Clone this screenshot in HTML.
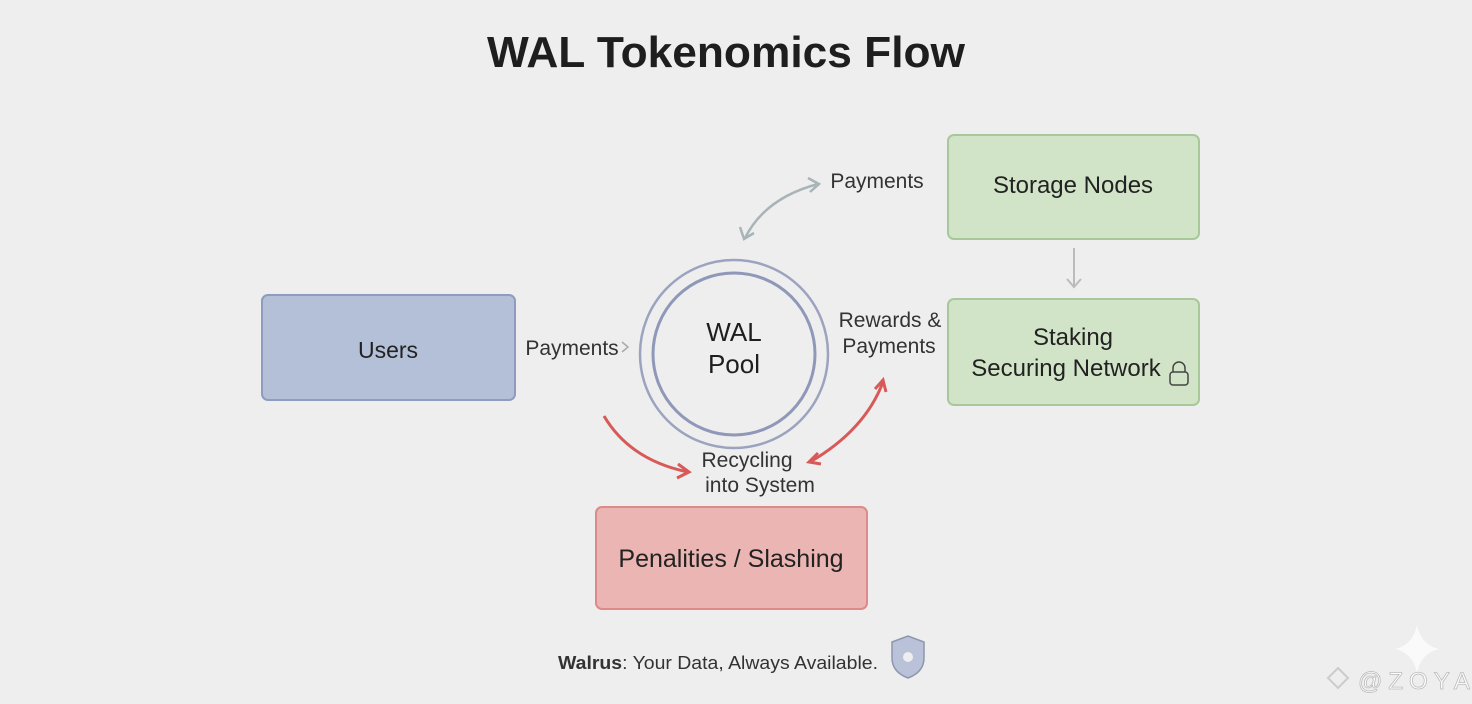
<!DOCTYPE html>
<html><head><meta charset="utf-8"><style>
html,body{margin:0;padding:0;background:#eeeeee;}
svg{display:block;font-family:"Liberation Sans",sans-serif;}
</style></head><body>
<svg width="1472" height="704" viewBox="0 0 1472 704" xmlns="http://www.w3.org/2000/svg">
<rect width="1472" height="704" fill="#eeeeee"/>
<text x="726" y="67" text-anchor="middle" font-size="44" font-weight="bold" fill="#1e1e1e" textLength="478" lengthAdjust="spacingAndGlyphs">WAL Tokenomics Flow</text>

<rect x="262" y="295" width="253" height="105" rx="6" fill="#b4c0d8" stroke="#8f9cc0" stroke-width="2"/>
<text x="388" y="358" text-anchor="middle" font-size="23" fill="#222">Users</text>

<rect x="948" y="135" width="251" height="104" rx="6" fill="#d2e4c8" stroke="#a8c89a" stroke-width="2"/>
<text x="1073" y="193" text-anchor="middle" font-size="24" fill="#222">Storage Nodes</text>

<rect x="948" y="299" width="251" height="106" rx="6" fill="#d2e4c8" stroke="#a8c89a" stroke-width="2"/>
<text x="1073" y="345" text-anchor="middle" font-size="24" fill="#222">Staking</text>
<text x="1066" y="376" text-anchor="middle" font-size="24" fill="#222">Securing Network</text>
<g stroke="#444" stroke-width="1.5" fill="none"><path d="M1173 372 v-4 a6 6 0 0 1 12 0 v4"/><rect x="1170" y="372" width="18" height="13" rx="3"/></g>

<rect x="596" y="507" width="271" height="102" rx="6" fill="#eab5b2" stroke="#de8a88" stroke-width="2"/>
<text x="731" y="567" text-anchor="middle" font-size="25" fill="#222">Penalities / Slashing</text>

<circle cx="734" cy="354" r="94" fill="none" stroke="#9ba3bf" stroke-width="2.5"/>
<circle cx="734" cy="354" r="81" fill="none" stroke="#8f98b8" stroke-width="3"/>
<text x="734" y="341" text-anchor="middle" font-size="26" fill="#1e1e1e">WAL</text>
<text x="734" y="373" text-anchor="middle" font-size="26" fill="#1e1e1e">Pool</text>

<text x="572" y="355" text-anchor="middle" font-size="21" fill="#333">Payments</text>
<path d="M622 342 l6 5 l-6 5" stroke="#aaa" stroke-width="1.5" fill="none"/>
<text x="877" y="188" text-anchor="middle" font-size="21" fill="#333">Payments</text>
<text x="890" y="327" text-anchor="middle" font-size="21" fill="#333">Rewards &amp;</text>
<text x="889" y="353" text-anchor="middle" font-size="21" fill="#333">Payments</text>
<text x="747" y="467" text-anchor="middle" font-size="21" fill="#333">Recycling</text>
<text x="760" y="492" text-anchor="middle" font-size="21" fill="#333">into System</text>

<path d="M745 238 Q765 198 818 184" stroke="#a8b4b8" stroke-width="2.5" fill="none"/>
<path d="M808 178 l11 6 l-9 8" stroke="#a8b4b8" stroke-width="2.5" fill="none"/>
<path d="M740 227 l4 12 l10 -6" stroke="#a8b4b8" stroke-width="2.5" fill="none"/>

<path d="M1074 248 v38" stroke="#bbb" stroke-width="2"/>
<path d="M1067 279 l7 8 l7 -8" stroke="#bbb" stroke-width="2" fill="none"/>

<path d="M604 416 Q630 460 688 472" stroke="#d85a58" stroke-width="3" fill="none"/>
<path d="M678 464 l11 8 l-12 6" stroke="#d85a58" stroke-width="3" fill="none"/>
<path d="M810 462 Q865 430 883 382" stroke="#d85a58" stroke-width="3" fill="none"/>
<path d="M818 453 l-9 9 l12 2" stroke="#d85a58" stroke-width="3" fill="none"/>
<path d="M875 389 l8 -9 l3 12" stroke="#d85a58" stroke-width="3" fill="none"/>

<text x="558" y="669" font-size="18" fill="#333" textLength="320" lengthAdjust="spacingAndGlyphs"><tspan font-weight="bold">Walrus</tspan>: Your Data, Always Available.</text>
<path d="M892 642 l16 -6 l16 6 v16 q0 14 -16 20 q-16 -6 -16 -20z" fill="#b9c2d8" stroke="#8c96ad" stroke-width="1.5"/>
<circle cx="908" cy="657" r="5" fill="#eee"/>

<path d="M1417 625 q4 20 22 24 q-18 4 -22 24 q-4 -20 -22 -24 q18 -4 22 -24z" fill="#fafafa"/>
<text x="1358" y="689" font-size="24" fill="#fff" stroke="#bbb" stroke-width="0.8" letter-spacing="6">@ZOYA</text>
<path d="M1338 668 l10 10 l-10 10 l-10 -10z" fill="none" stroke="#ccc" stroke-width="2"/>
</svg>
</body></html>
